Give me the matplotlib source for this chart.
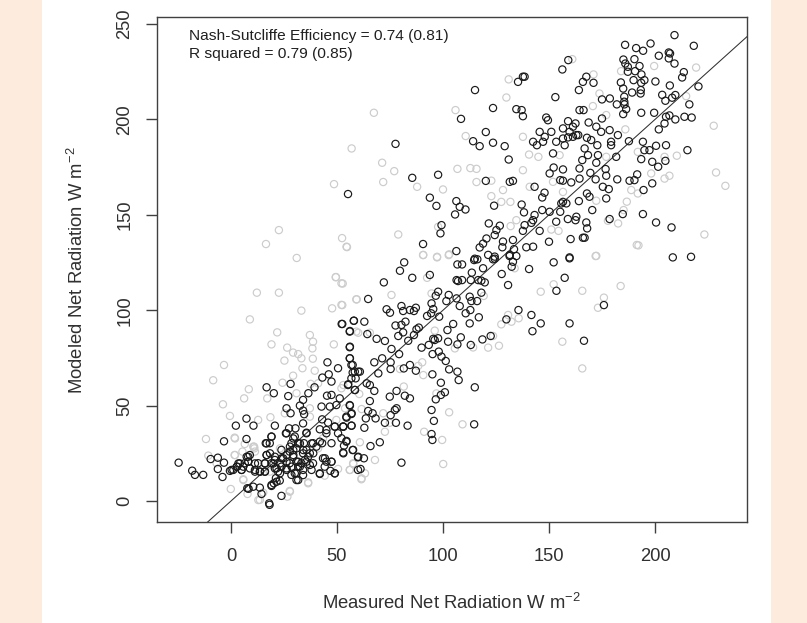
import matplotlib
matplotlib.use("Agg")
import matplotlib.pyplot as plt
from matplotlib.patches import Rectangle

plt.rcParams['font.family'] = ['Liberation Sans', 'DejaVu Sans']
plt.rcParams['mathtext.fontset'] = 'custom'
plt.rcParams['mathtext.rm'] = 'Liberation Sans'
plt.rcParams['mathtext.default'] = 'regular'

x_ticks = [0, 50, 100, 150, 200]
y_ticks = [0, 50, 100, 150, 200, 250]
x_label = "Measured Net Radiation W m$^{-2}$"
y_label = "Modeled Net Radiation W m$^{-2}$"
note_lines = ["Nash-Sutcliffe Efficiency = 0.74 (0.81)", "R squared = 0.79 (0.85)"]

black_points = [
(209.2,244.2),(218.3,238.6),(185.9,239.1),(191.1,237.4),(194.4,236),(197.9,239.8),(206.5,235.1),(207.1,234.6),(206.5,232),
(201.8,233.4),(209.2,229.3),(213.6,224.8),(212.8,222),(185.1,231.4),(186,229.3),(190.3,231.6),(192.7,228),(187.2,227.6),
(187.2,225),(190.6,225.3),(193.6,223.6),(189.9,220.6),(195,220.6),(193.5,219.2),(183.9,219.4),(200.2,219.9),(207,217.8),
(220.5,217.3),(185,216.2),(193.3,215.4),(193.2,213.6),(189.2,214.1),(203.4,212.9),(209.6,212.8),(208.1,211.4),(185.5,211.9),
(185.5,209.3),(185.6,207.9),(204.9,209.8),(178.7,211),(175,210.5),(182,207.9),(216.2,207.9),(186.4,205.4),(185,202.8),
(193.5,203.5),(199.6,203.5),(206.8,202.1),(205.2,201.4),(213.9,201.4),(217.3,201),(209.6,200),(204.5,197.9),(201.8,194.8),
(175,200.5),(168.7,198.4),(172.3,196.2),(159,199.1),(162.5,197.9),(156.6,195.3),(161.3,196.2),(159.7,193.5),(162.9,191.8),
(163.8,191.8),(161.3,190.9),(159,190.6),(156.6,190),(157.4,186.5),(153.4,188.3),(151.1,193.5),(148,190.9),(145.6,193.5),
(148.7,201),(149.5,199.6),(142.5,188.3),(144.3,186.5),(147.2,188.3),(137.7,201.7),(134.6,205.4),(137.1,204.9),(123.6,206),
(120.2,193.4),(123.6,187.8),(114.2,188.6),(117.3,186),(129.1,186),(131,179),(108.5,200.3),(115.1,215.4),(153,211.7),
(135.4,219.7),(137.7,222.4),(138.5,222.4),(156.3,226.2),(159.1,231.1),(164.1,215.4),(166,219.7),(167.6,222.4),(171,219.2),
(164.4,204.9),(166.3,204.9),(77.6,187.2),(85.5,169.4),(97.7,171),(93.8,159),(96.9,154.7),(106.3,157.2),(110.6,152.8),
(105.7,150.2),(107.9,154.2),(124.1,154.8),(120.2,167.8),(131.5,167.3),(133,167.8),(143.2,164.7),(147.9,161.6),(146.8,159.1),
(151.9,182.2),(150.3,171.7),(152.2,174.8),(156.6,173.8),(155.3,168.2),(156.6,167.9),(160.5,167),(164.4,169),(164.4,174.3),
(165.7,178.7),(166.8,184.8),(168.4,181.3),(172.8,186.5),(173.1,181.3),(172.3,177.3),(169.5,172),(176.7,174),(177,170.5),
(172,168.6),(182.2,168.6),(188,167.9),(190.3,168.2),(191.6,171.2),(194.6,163),(198.7,166.5),(201.5,175.2),(204.9,178.3),
(198.7,177.8),(193.5,179.2),(195,183.9),(197.4,183.9),(200.5,186.2),(205.2,186.5),(215.3,183.9),(194.3,188.3),(187.7,188.6),
(179.3,186.5),(179.3,188.3),(182.5,191.8),(178.6,194.4),(174.6,193.5),(169.9,189.2),(167.9,190.4),(181.7,180.4),(175.4,164.7),
(178.2,163.5),(177,158.6),(167.9,161.2),(169.1,159.5),(164.1,157.2),(170.4,152.5),(156.6,156.8),(155.8,156),(158.2,156),
(155.3,151.6),(150.3,151.6),(146.8,152.5),(137.1,155.4),(138.2,151.3),(143.2,149.9),(142.5,147.2),(141.7,145.8),(145.6,141.6),
(138.5,144.6),(137.7,141.6),(162.9,149),(162.5,147.2),(158.9,147.8),(153.4,146.4),(167.6,146),(168,142.9),(160.2,137.3),
(166,138),(166.8,138),(150,135.9),(139.3,133),(142.5,133.3),(133,136.8),(133.5,132),(131.4,128.4),(134.6,128.4),(120.5,137.6),
(118.9,134.9),(117.3,132.9),(121.6,145.5),(126.8,144.3),(125.2,142),(124.4,139.4),(128.3,136),(128,133),(99.3,144.6),
(98.8,140.3),(90.6,134.7),(106.3,131),(115,127),(124.4,127),(159.7,127.7),(208.4,127.7),(217,128),(194.3,150.4),(200.5,146),
(207.8,143.4),(184.8,150.4),(178.6,147.8),
(81.7,125.1),(79.7,120.7),(85.5,117),(93.8,118.5),(72.1,114.6),(64.7,105.9),(106.8,124),(109,124),(114.7,126.3),(116.2,126.7),
(118.9,122),(113.6,119.7),(106.4,115.8),(107.1,115.3),(109,115.8),(113.1,115.8),(116.6,115.8),(118.1,115.5),(119.7,114.6),
(124.4,128.1),(121.3,129),(123.6,126.7),(131.5,129),(133,125.4),(132.4,122.8),(127.7,119),(140.6,121.6),(152.2,125.1),
(159.7,127.2),(157.4,117),(153.5,110.2),(130.7,113.2),(118.1,109.2),(97.7,109.7),(96.6,107.6),(102.7,108),(101.6,104.8),
(106.4,106.2),(112.6,107.1),(113.4,104.8),(116.1,104.8),(94.6,103.6),(107.9,102.2),(110.7,98.4),(112.9,100.1),(112.6,93.1),
(116.9,96.3),(73.4,100.5),(75,98.7),(80.4,102.2),(81.2,99.6),(84.4,100.1),(87.2,101.3),(86.3,99.6),(95.4,100.6),(92.5,97),
(98.2,96.6),(94.4,98.4),(82.3,94),(77.6,92),(80.4,92.3),(81.2,88.4),(78.9,86.5),(88.6,90.9),(87.5,90),(86.3,87),(83.6,84),
(104.8,92.8),(102.1,89.6),(108.4,85.8),(102.4,83.5),(106.8,82.1),(113.1,81.8),(118.6,84.7),(122.5,86.5),(95.4,85),(97.7,85.3),
(96.1,84.4),(93.3,81.8),(89.9,80.4),(98,78.3),(95.1,77),(99.3,75.7),(101.3,73.4),(102.9,69),(106.8,67.8),(107.4,63.4),(95,66.4),
(99,62),(115,59.6),(100.9,57),(99,55.6),(96.6,53.3),(94.6,47.7),(95.7,42),(94.6,35.1),(95,32),(114.7,40.2),(129.9,95.2),
(135.6,100.1),(141.7,97.5),(146.1,93.1),(142.2,89),(159.7,93.1),(166.5,84),(175.9,102.7),
(56.1,89.1),(64.3,87.5),(58,94.5),(62.9,94),(52.5,92.8),(68.7,85),(72.6,83.9),(56.1,80.9),(75.7,79.7),(79.3,77),(71.3,74.8),
(67.6,72.7),(75.3,72.7),(81.5,69.5),(84.4,71.3),(87.2,68.3),(75.3,69.2),(69.5,66.9),(56.1,74.8),(57.4,71.3),(57.4,67.3),(60,67.8),
(60.8,67.8),(58.8,64.3),(55.3,61.2),(58.5,58.2),(64,61.7),(65.5,60.8),(67.6,57.7),(74.9,54.7),(78.1,57.7),(82,55.2),(84.4,53.8),
(65.5,52.4),(56.1,50),(78.1,48.6),(77.3,47.7),(75.3,45),(56.9,46),(64.7,47.2),(66.8,46),(63.6,43.3),(68.2,43.3),(54.5,43.7),
(72.6,41),(77.8,41),(83.3,39.5),(53,39),(56.9,39.5),(62.9,38.4),(70.2,30.8),(65.8,28.8),(54.5,31.5),(53.3,29),(57.4,26.7),
(53,25),(60,23.2),(62.7,22.4),(80.4,20.1),(61.1,16.8),
(-24.7,20.1),(-18.3,15.9),(-17,13.7),(-13.1,13.7),(-9.6,22),(-6.2,22.7),(-3.3,20.1),(-6.2,16.8),(-4,12.6),(-3.3,31.3),(2.3,39.5),
(7.3,43.2),(10.6,39.5),(7.3,32.5),(20.7,39.5),(16.4,30.3),(18.3,30.3),(19.1,33.8),(16.8,59.6),(20.2,56.5),(27,55),(28.1,61.4),
(26.2,48.6),(28.1,46),(32.5,50),(34,53),(36.5,56.5),(39.4,59.6),(34,47.4),(34.5,45.5),(43.1,64.7),(46.1,66.4),(47.4,62.6),
(45.5,72.7),(50.5,69.6),(56,80.6),(56,88.8),(52.2,92.8),(57.9,94.5),(56,74.8),(56.8,71.3),(58.4,67.8),(56.8,64.3),(55.2,60.8),
(58.4,58.2),(45.3,55.2),(47.4,55.6),(51.3,53.8),(49.7,50.3),(56,50.3),(42.7,49.5),(46.6,49.5),(56.8,45.6),(54.4,44.2),(43,42.8),
(45.8,41.1),(48.9,39),(52.9,39),(56.8,39.5),(41.9,37.6),(34,40.7),(30.4,38.1),(27.4,38.1),(25.9,35.5),(35.6,35.8),(45,35.5),
(50.5,35.5),(52.1,32.9),(54.4,31.1),(57.6,26.8),(59.9,22.9),(59.9,16.3),(52.9,25.4),(47.4,30.3),(43,30.3),(38.7,30.3),(30.1,33.8),
(28.5,30.3),(31.7,30.3),(34.4,30.3),(27.7,25.9),(23.8,26.8),(16.8,24.1),(8.1,23.2),(29.3,23.2),(34,25),(37.2,25),(40.3,28.5),
(43.4,22.4),(47.4,20.6),(45,20.6),(44.2,18),(46.9,15.8),(48.9,14.5),(41.9,14.2),(38.7,19.8),(35.6,20.6),(33.2,19.8),(34,16.3),
(30.9,14.5),(31.7,11),(28.5,13.7),(26.2,16.3),(22.2,15.4),(21.2,12),(23,10.7),(19.1,7.9),(20.2,9.3),(23.8,2.7),(18,-1.2),
(18.2,-2),(14.4,3.7),(13.6,7),(10.5,7.5),(7.7,6.7),(8.3,6.4),(-0.5,15.8),(1.1,16.3),(2.9,18),(5,16.3),(6.5,19.8),(8.1,20.6),
(8.9,17.1),(11.3,16.3),(13.6,15.4),(16,15.4),(12.8,19.8),(16,19.8),(19.1,19.8),(20.7,17.1),(23.8,18),(20.7,21.5),(24.6,22.4),
(27.7,19.8),(31.7,20.6),(38,16.3),(31.7,18),(30.9,27.6),(35.6,26.8),
(55.2,160.9),
(0.3,16.3),(2.7,18),(4.2,19.7),(5.8,18),(7.4,23.2),(8.9,24.1),(8.2,20.6),(11.3,19.7),(11.3,15.4),(13.7,15.4),(16,15.4),(16.8,24.1),
(16,19.7),(20,19.7),(20.7,23.2),(21.5,17.1),(23.1,19.7),(23.1,14.5),(21.5,10.1),(19.1,8.4),(26.2,17.1),(28.6,18),(29.4,24.1),(27.8,28.5),
(30.1,14.5),(30.9,11),(34,13.6),(32.5,18),(34.9,21.5),(36.4,23.2),(37.2,18.9),(34.1,26.7),(38.8,25),(26.2,35.5),(29.4,32.8),(32.5,30.2),
(38,30.2),(35.6,35.5),(41.9,31.1),(45,37.2),(49,39),(52.9,39),(44.3,22.4),(47.4,20.6),(49,14.5),(41.9,14.5),(19.1,33.7),(16.8,30.2),
(26.2,24.1),(26.2,20.6),(5,16.3),(18.4,25),(23.9,22.4),(30.9,20.6),(29.4,26.7),(3.5,19.7),
]

gray_points = [
(67.4,203.5),(131,221),(161,231.6),(171,223.6),(199.6,228),(219.4,227.2),(129.9,211.5),(105.9,204.9),(184,225.3),(214.7,212.2),
(173.8,213.6),(170.7,207),(177,202.3),(227.7,196.7),(186,194.8),(110.7,191.3),(137.7,190.9),(56.9,184.8),(71.3,177.3),(77,172.9),
(71.8,167.2),(87.8,164.7),(100,163.3),(106.8,174.1),(112.9,174.5),(115.8,174.1),(115.8,167.2),(122.8,167.9),(137.7,173.4),
(140.6,181.6),(145,180.4),(155,181.3),(177,180.4),(191.9,183),(204.5,180.4),(210.3,181),(198.2,171.7),(204.5,169),(206.8,170.5),
(228.8,172.2),(233.2,165.2),(188.8,163),(191.9,161.2),(186.7,156.9),(185.2,152.5),(182.6,145.5),(223.3,139.7),(192.2,134),
(172.3,128.5),(177.8,146.9),(172.3,157.4),(128.3,163),(122.8,159.8),(127.5,156.8),(131.8,156.8),(78.9,139.7),(97.7,143.7),
(134.6,147.2),(131.9,144.1),(151.1,142.3),(154.5,141.6),(90.6,128.9),(97.2,128),(102.7,128.9),(151.9,167.3),(156.6,162),(140.9,164.7),
(54.5,133.3),(90.7,129),(97.2,127.7),(102.9,129.3),(133.8,122),(172,128.4),(191.4,134.2),(52.7,114),(75.7,108),(59.3,105.7),
(52.5,102.7),(94.6,108.8),(92.5,117),(146.1,109.7),(152.2,113.6),(165.7,110.2),(183.8,112.7),(175.9,106.6),(173.1,101.3),(130.7,97.5),
(135.7,95.8),(127.5,92.6),(132.3,94),(119.2,107.5),(96.1,89.3),(65.5,88.2),(60,88.2),(105.6,80),(114.2,80.5),(121.3,80.4),(126.4,81.4),
(123.6,86.5),(156.3,83.5),(165.7,69.5),(90.2,72.7),(88.3,70.8),(79.7,69.2),(90.7,66),(81.5,60),(96.9,56.4),(102.9,46.5),(109.2,40.2),
(91.1,36.3),(99.6,32),(100.1,19.4),(72.6,36.3),(67.9,21.5),(60.8,30.8),(71.8,46),(61.6,48.2),(57.7,19.4),(56.1,16.3),(63.2,14.5),
(61.6,11.9),(53.8,48.6),(60.5,56.1),(53,60.8),(74.9,41),
(49.4,117.3),(52.1,114.1),(12.2,109.2),(22.6,109.2),(33.2,99.8),(47.7,101),(52.1,102.8),(59.1,105.7),(8.9,95.2),(21.8,88.4),(37.2,87),
(38.7,83.5),(38.4,80),(19.1,82.1),(26.5,80.4),(29.3,77.8),(31.7,77),(33.2,74.8),(25.2,73.6),(38.6,74.6),(48.5,82.1),(-3.3,71.3),
(33.7,69.6),(39.5,68.3),(29.3,65.7),(-8.4,63.3),(24.3,62),(37.6,61.4),(41.1,61.7),(8.4,58.6),(6.2,53.8),(17.1,53.8),(30.9,56.5),
(-3.8,50.7),(37.2,48.6),(-0.5,44.6),(12.8,42.5),(18.6,43.9),(-11.8,32.5),(1.7,33.2),(6.5,29.9),(10.9,28.5),(-10.7,23.8),(1.7,24.1),
(5.4,25.9),(11.3,25.9),(-6.8,19.8),(-0.1,6.3),(5.8,11.4),(13.6,0.6),(27.7,5.3),(26.6,2.3),(7.8,3.7),(36.4,9.8),(44.2,13.3),(50.5,16.8),
(56,16.3),(57.6,19.8),(61.5,11.4),(15.2,4.4),(18.3,15.4),(43.4,32.9),(52.1,59.1),(59.1,88.8),(25.4,46),(41.1,27.6),(49.7,42.5),(37.2,44.2),
(48.6,166.1),(22.6,142),(16.5,134.7),(31,127.4),(52.4,137.8),(54.7,133.1),(49.5,117.4),
(10.5,28.5),(11,27.6),(1.9,24.1),(1.9,32.8),(5.8,11),(12.9,0.5),(27.8,4.9),(36.4,9.3),(23.1,27.6),
]

W, H = 807, 623
fig = plt.figure(figsize=(W / 100, H / 100), dpi=100, facecolor='white')
peach = '#FDEBDD'
fig.add_artist(Rectangle((0, 0), 42 / W, 1, transform=fig.transFigure, color=peach, lw=0, zorder=-5))
fig.add_artist(Rectangle((771 / W, 0), 36 / W, 1, transform=fig.transFigure, color=peach, lw=0, zorder=-5))

ax = fig.add_axes([157 / W, 1 - 522 / H, 590 / W, 505 / H])
ax.set_xlim(-34.9, 243.4)
ax.set_ylim(-11, 253.7)

ax.scatter(*zip(*gray_points), s=27, facecolors='none', edgecolors='#cccccc', linewidths=0.85, zorder=2)
ax.axline((0, 0), slope=1, color='#303030', lw=0.75, zorder=3)
ax.scatter(*zip(*black_points), s=27, facecolors='none', edgecolors='#1a1a1a', linewidths=0.85, zorder=4)

for s in ax.spines.values():
    s.set_color('#404040')
    s.set_linewidth(1.0)
ax.set_xticks(x_ticks)
ax.set_yticks(y_ticks)
ax.tick_params(axis='both', length=8, width=1.0, color='#404040', labelcolor='#303030', labelsize=13.2)
ax.tick_params(axis='x', pad=11)
ax.tick_params(axis='y', labelrotation=90, pad=9)
for lab in ax.get_yticklabels():
    lab.set_va('center')

fig.text(451 / W, 1 - 603 / H, x_label, ha='center', va='center', fontsize=13.3, color='#303030')
fig.text(77 / W, 1 - 270 / H, y_label, rotation=90, ha='center', va='center', fontsize=13.3, color='#303030')

fig.text(189 / W, 1 - 36 / H, note_lines[0], ha='left', va='center', fontsize=11.15, color='#202020')
fig.text(189 / W, 1 - 54 / H, note_lines[1], ha='left', va='center', fontsize=11.15, color='#202020')

fig.savefig('out.png', dpi=100)
